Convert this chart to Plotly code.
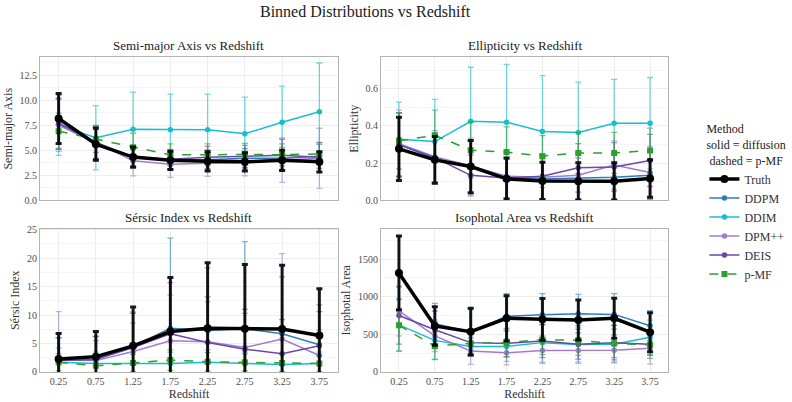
import plotly.graph_objects as go
from plotly.subplots import make_subplots

redshift = [0.25, 0.75, 1.25, 1.75, 2.25, 2.75, 3.25, 3.75]
tick_labels = ["0.25", "0.75", "1.25", "1.75", "2.25", "2.75", "3.25", "3.75"]
methods = ["DDPM", "DDIM", "DPM++", "DEIS", "p-MF", "Truth"]

# ---- Semi-major Axis ----
sma_mean = {
    "Truth": [8.17, 5.6, 4.33, 4.0, 3.9, 3.85, 4.0, 3.85],
    "DDPM":  [7.6, 5.7, 4.3, 4.0, 4.05, 4.2, 4.2, 4.4],
    "DDIM":  [7.5, 6.25, 7.1, 7.05, 7.05, 6.65, 7.8, 8.85],
    "DPM++": [7.5, 5.8, 3.95, 3.6, 3.7, 3.75, 4.0, 4.2],
    "DEIS":  [7.7, 5.8, 4.3, 4.1, 4.3, 4.4, 4.5, 4.3],
    "p-MF":  [6.9, 6.1, 5.3, 4.55, 4.55, 4.6, 4.55, 4.65],
}
sma_err = {
    "Truth": [2.5, 1.6, 1.0, 0.9, 0.95, 0.9, 1.0, 1.0],
    "DDPM":  [2.5, 1.6, 1.0, 0.9, 1.0, 1.0, 1.1, 1.2],
    "DDIM":  [3.0, 3.2, 3.7, 3.55, 3.55, 3.65, 3.6, 4.85],
    "DPM++": [2.6, 1.7, 1.5, 1.3, 1.3, 1.3, 2.2, 3.0],
    "DEIS":  [2.5, 1.6, 1.1, 1.0, 1.1, 1.1, 1.6, 1.5],
    "p-MF":  [1.8, 1.3, 1.4, 1.1, 1.1, 1.1, 1.1, 1.1],
}

# ---- Ellipticity ----
ell_mean = {
    "Truth": [0.277, 0.218, 0.182, 0.116, 0.105, 0.103, 0.103, 0.118],
    "DDPM":  [0.30, 0.225, 0.18, 0.125, 0.115, 0.118, 0.125, 0.135],
    "DDIM":  [0.328, 0.316, 0.425, 0.42, 0.37, 0.365, 0.415, 0.415],
    "DPM++": [0.305, 0.235, 0.185, 0.13, 0.125, 0.135, 0.19, 0.15],
    "DEIS":  [0.30, 0.23, 0.135, 0.12, 0.13, 0.175, 0.18, 0.215],
    "p-MF":  [0.32, 0.35, 0.27, 0.26, 0.238, 0.255, 0.255, 0.268],
}
ell_err = {
    "Truth": [0.17, 0.125, 0.14, 0.11, 0.10, 0.10, 0.10, 0.10],
    "DDPM":  [0.17, 0.13, 0.14, 0.11, 0.11, 0.11, 0.12, 0.13],
    "DDIM":  [0.20, 0.227, 0.29, 0.31, 0.30, 0.27, 0.235, 0.245],
    "DPM++": [0.18, 0.14, 0.15, 0.12, 0.12, 0.13, 0.13, 0.14],
    "DEIS":  [0.17, 0.13, 0.11, 0.11, 0.12, 0.13, 0.13, 0.14],
    "p-MF":  [0.15, 0.135, 0.15, 0.135, 0.11, 0.11, 0.11, 0.12],
}

# ---- Sersic Index ----
ser_mean = {
    "Truth": [2.27, 2.7, 4.6, 7.1, 7.7, 7.6, 7.55, 6.4],
    "DDPM":  [2.0, 2.3, 4.5, 7.7, 7.3, 7.6, 6.7, 4.8],
    "DDIM":  [1.7, 1.5, 1.5, 1.5, 1.7, 1.5, 1.3, 1.5],
    "DPM++": [2.1, 2.0, 3.6, 5.5, 5.3, 4.3, 5.8, 2.9],
    "DEIS":  [2.0, 2.2, 4.3, 6.7, 5.2, 4.0, 3.2, 4.6],
    "p-MF":  [1.7, 1.1, 1.6, 2.1, 1.8, 1.7, 1.6, 1.5],
}
ser_err = {
    "Truth": [4.5, 4.4, 6.8, 9.5, 11.5, 11.3, 11.2, 8.2],
    "DDPM":  [4.0, 4.0, 6.0, 15.8, 11.0, 15.3, 10.0, 7.0],
    "DDIM":  [2.5, 2.0, 2.0, 2.0, 2.2, 2.0, 1.8, 2.0],
    "DPM++": [8.5, 3.5, 5.0, 8.0, 7.0, 6.0, 15.0, 4.5],
    "DEIS":  [4.0, 4.0, 6.0, 9.0, 8.0, 7.0, 6.0, 6.0],
    "p-MF":  [1.5, 1.2, 1.5, 1.8, 1.6, 1.5, 1.5, 1.4],
}

# ---- Isophotal Area ----
iso_mean = {
    "Truth": [1315, 611, 536, 713, 700, 690, 713, 528],
    "DDPM":  [1305, 640, 530, 740, 760, 775, 765, 615],
    "DDIM":  [625, 420, 340, 340, 390, 365, 370, 460],
    "DPM++": [810, 480, 280, 255, 285, 285, 290, 315],
    "DEIS":  [750, 560, 390, 380, 410, 370, 390, 370],
    "p-MF":  [620, 345, 380, 390, 430, 420, 380, 360],
}
iso_err = {
    "Truth": [490, 255, 310, 300, 277, 265, 265, 260],
    "DDPM":  [500, 270, 310, 300, 280, 255, 275, 200],
    "DDIM":  [350, 250, 110, 200, 260, 230, 250, 230],
    "DPM++": [330, 210, 180, 160, 170, 170, 160, 210],
    "DEIS":  [380, 250, 150, 180, 220, 200, 230, 150],
    "p-MF":  [340, 180, 170, 190, 200, 200, 190, 180],
}

colors = {
    "Truth": "#000000",
    "DDPM": "#2c7fb8",
    "DDIM": "#17becf",
    "DPM++": "#a07bd0",
    "DEIS": "#6a46a8",
    "p-MF": "#2ca02c",
}
err_colors = {
    "Truth": "rgba(0,0,0,0.9)",
    "DDPM": "rgba(44,127,184,0.6)",
    "DDIM": "rgba(23,190,207,0.6)",
    "DPM++": "rgba(160,123,208,0.6)",
    "DEIS": "rgba(106,70,168,0.6)",
    "p-MF": "rgba(44,160,44,0.6)",
}
legend_rank = {"Truth": 1, "DDPM": 2, "DDIM": 3, "DPM++": 4, "DEIS": 5, "p-MF": 6}

FONT = "Liberation Serif"

fig = make_subplots(
    rows=2, cols=2,
    subplot_titles=["Semi-major Axis vs Redshift", "Ellipticity vs Redshift",
                    "Sérsic Index vs Redshift", "Isophotal Area vs Redshift"],
    horizontal_spacing=0.0685, vertical_spacing=0.089,
)

panels = [
    (1, 1, sma_mean, sma_err),
    (1, 2, ell_mean, ell_err),
    (2, 1, ser_mean, ser_err),
    (2, 2, iso_mean, iso_err),
]

for idx, (r, c, means, errs) in enumerate(panels):
    for m in methods:
        truth = m == "Truth"
        pmf = m == "p-MF"
        fig.add_trace(
            go.Scatter(
                x=redshift, y=means[m],
                mode="lines+markers",
                name=m,
                legendgroup=m,
                legendrank=legend_rank[m],
                showlegend=(idx == 0),
                line=dict(color=colors[m], width=3.5 if truth else 1.5,
                          dash="dash" if pmf else "solid"),
                marker=dict(color=colors[m], size=8 if truth else (6 if pmf else 5.5),
                            symbol="square" if pmf else "circle"),
                error_y=dict(type="data", array=errs[m], visible=True,
                             color=err_colors[m], thickness=3 if truth else 1.3,
                             width=3),
            ),
            row=r, col=c,
        )

axis_common = dict(
    showline=True, linecolor="#b3b3b3", linewidth=1, mirror=True,
    showgrid=True, gridcolor="#ededed", gridwidth=0.6,
    zeroline=False, ticks="", automargin=False,
    tickfont=dict(family=FONT, size=10, color="#4d4d4d"),
)
x_domains = {1: [0.0, 0.4745], 2: [0.543, 1.0]}
for r in (1, 2):
    for c in (1, 2):
        fig.update_xaxes(
            range=[0.0, 4.0], tickvals=redshift, domain=x_domains[c],
            ticktext=tick_labels, showticklabels=(r == 2),
            row=r, col=c, **axis_common,
        )
        if r == 2:
            fig.update_xaxes(title=dict(text="Redshift", standoff=2,
                                        font=dict(family=FONT, size=12, color="#333333")),
                             row=r, col=c)

ytitle_font = dict(family=FONT, size=12, color="#333333")
fig.update_yaxes(range=[0, 14.3], tickvals=[0, 2.5, 5, 7.5, 10, 12.5], tickformat=".1f",
                 minor=dict(dtick=1.25, showgrid=True, gridcolor="#f5f5f5"),
                 title=dict(text="Semi-major Axis", font=ytitle_font, standoff=4),
                 row=1, col=1, **axis_common)
fig.update_yaxes(range=[0, 0.77], tickvals=[0, 0.2, 0.4, 0.6], tickformat=".1f",
                 minor=dict(dtick=0.1, showgrid=True, gridcolor="#f5f5f5"),
                 title=dict(text="Ellipticity", font=ytitle_font, standoff=4),
                 row=1, col=2, **axis_common)
fig.update_yaxes(range=[0, 25.2], tickvals=[0, 5, 10, 15, 20, 25],
                 minor=dict(dtick=2.5, showgrid=True, gridcolor="#f5f5f5"),
                 title=dict(text="Sérsic Index", font=ytitle_font, standoff=4),
                 row=2, col=1, **axis_common)
fig.update_yaxes(range=[0, 1905], tickvals=[0, 500, 1000, 1500],
                 minor=dict(dtick=250, showgrid=True, gridcolor="#f5f5f5"),
                 title=dict(text="Isophotal Area", font=ytitle_font, standoff=4),
                 row=2, col=2, **axis_common)

# re-centre subplot titles on the manual domains
centers = [sum(x_domains[1]) / 2, sum(x_domains[2]) / 2, sum(x_domains[1]) / 2, sum(x_domains[2]) / 2]
for ann, cx in zip(fig.layout.annotations, centers):
    ann.font = dict(family=FONT, size=13, color="#1a1a1a")
    ann.x = cx
    ann.yshift = 2

fig.update_layout(
    width=792, height=402,
    margin=dict(l=40, r=124, t=57, b=30, autoexpand=False),
    paper_bgcolor="white", plot_bgcolor="white",
    font=dict(family=FONT, color="#333333"),
    title=dict(text="Binned Distributions vs Redshift", x=0.461, xanchor="center",
               y=0.985, yanchor="top",
               font=dict(family=FONT, size=16, color="#1a1a1a")),
    legend=dict(
        title=dict(text="Method<br>solid = diffusion<br> dashed = p-MF",
                   font=dict(family=FONT, size=12, color="#1a1a1a")),
        font=dict(family=FONT, size=12, color="#333333"),
        x=1.058, xanchor="left", y=0.807, yanchor="top",
        tracegroupgap=0, itemwidth=30,
    ),
)

fig.write_html("out.html")
